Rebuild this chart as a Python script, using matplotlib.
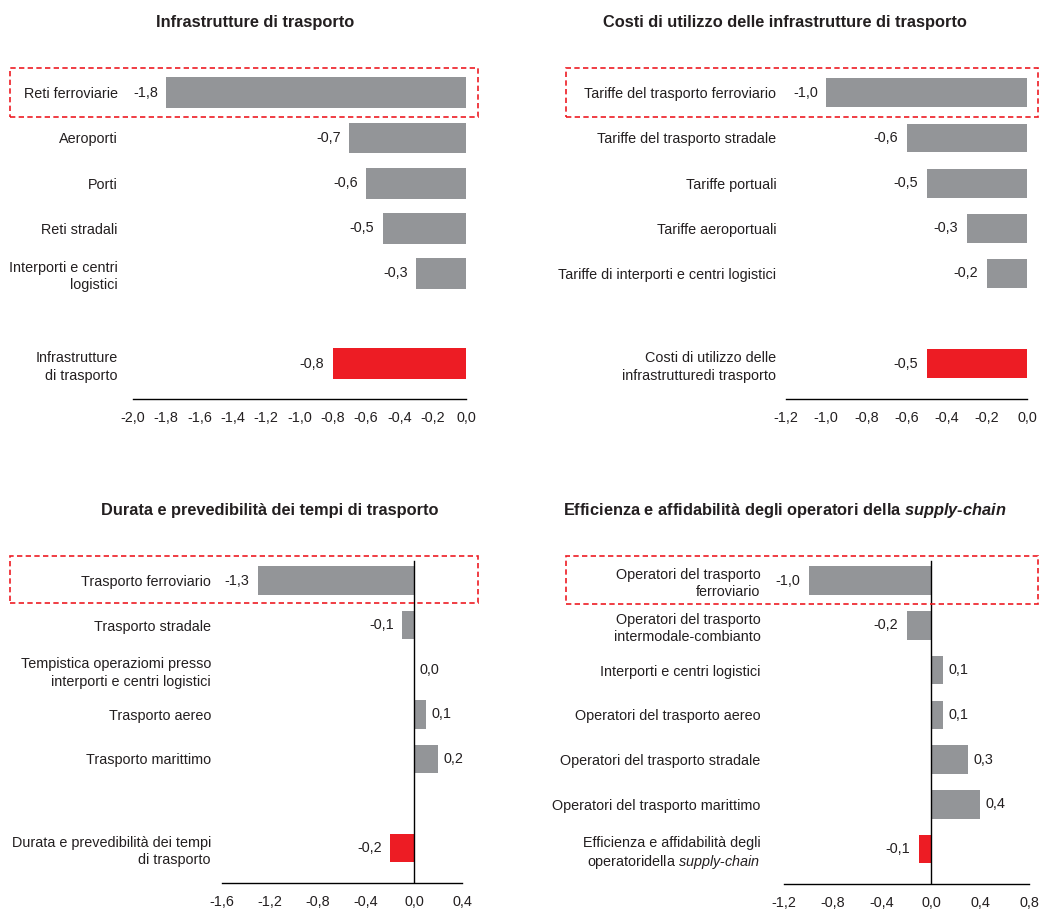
import matplotlib.pyplot as plt
from matplotlib.patches import Rectangle
from matplotlib.ticker import FuncFormatter

plt.rcParams['font.family'] = ['Liberation Sans', 'DejaVu Sans']
plt.rcParams['mathtext.fontset'] = 'custom'
plt.rcParams['mathtext.it'] = 'Liberation Sans:italic'
# bold-italic for the title fragment
plt.rcParams['mathtext.bf'] = 'Liberation Sans:italic:bold'

# --- data ---
infra_labels = ['Reti ferroviarie', 'Aeroporti', 'Porti', 'Reti stradali',
                'Interporti e centri\nlogistici', 'Infrastrutture\ndi trasporto']
infra_values = [-1.8, -0.7, -0.6, -0.5, -0.3, -0.8]

costi_labels = ['Tariffe del trasporto ferroviario', 'Tariffe del trasporto stradale',
                'Tariffe portuali', 'Tariffe aeroportuali',
                'Tariffe di interporti e centri logistici',
                'Costi di utilizzo delle\ninfrastrutturedi trasporto']
costi_values = [-1.0, -0.6, -0.5, -0.3, -0.2, -0.5]

durata_labels = ['Trasporto ferroviario', 'Trasporto stradale',
                 'Tempistica operaziomi presso\ninterporti e centri logistici',
                 'Trasporto aereo', 'Trasporto marittimo',
                 'Durata e prevedibilità dei tempi\ndi trasporto']
durata_values = [-1.3, -0.1, 0.0, 0.1, 0.2, -0.2]

oper_labels = ['Operatori del trasporto\nferroviario',
               'Operatori del trasporto\nintermodale-combianto',
               'Interporti e centri logistici', 'Operatori del trasporto aereo',
               'Operatori del trasporto stradale', 'Operatori del trasporto marittimo',
               'Efficienza e affidabilità degli\noperatoridella $\\mathit{supply}$-$\\mathit{chain}$']
oper_values = [-1.0, -0.2, 0.1, 0.1, 0.3, 0.4, -0.1]

GREY = '#939598'
RED = '#ED1C24'
TXT = '#231F20'
FS = 10.4

W, H = 1039, 913
fig = plt.figure(figsize=(W / 100, H / 100), dpi=100)


def px_axes(left, top, right, bottom):
    return fig.add_axes([left / W, 1 - bottom / H, (right - left) / W, (bottom - top) / H])


def comma(v, pos=None):
    return f'{v:.1f}'.replace('.', ',')


def draw_panel(ax, labels, values, slots, xlim, xticks, ypad, bar_h, zero_line=False):
    colors = [GREY] * (len(values) - 1) + [RED]
    ax.barh(slots, values, height=bar_h, color=colors, zorder=2)
    for s, v in zip(slots, values):
        if v < 0:
            ax.annotate(comma(v), (v, s), xytext=(-6, 0), textcoords='offset points',
                        ha='right', va='center', fontsize=FS, color=TXT)
        else:
            ax.annotate(comma(v), (v, s), xytext=(4, 0), textcoords='offset points',
                        ha='left', va='center', fontsize=FS, color=TXT)
    ax.set_xlim(*xlim)
    ax.set_ylim(6.78, -0.55)
    ax.set_xticks(xticks)
    ax.xaxis.set_major_formatter(FuncFormatter(comma))
    ax.set_yticks(slots)
    ax.set_yticklabels(labels, linespacing=1.3)
    ax.tick_params(axis='x', length=0, pad=8.5, labelsize=FS, labelcolor=TXT)
    ax.tick_params(axis='y', length=0, pad=ypad, labelsize=FS, labelcolor=TXT)
    for side in ['top', 'left', 'right']:
        ax.spines[side].set_visible(False)
    ax.spines['bottom'].set_color('black')
    ax.spines['bottom'].set_linewidth(1)
    if zero_line:
        ax.axvline(0, ymax=0.985, color='black', lw=1, zorder=3)
    ax.set_facecolor('none')


ax1 = px_axes(133, 68, 466, 399)
draw_panel(ax1, infra_labels, infra_values, [0, 1, 2, 3, 4, 6], (-2.0, 0.0),
           [-2.0, -1.8, -1.6, -1.4, -1.2, -1.0, -0.8, -0.6, -0.4, -0.2, 0.0], 11, 0.68)

ax2 = px_axes(786, 68, 1027, 399)
draw_panel(ax2, costi_labels, costi_values, [0, 1, 2, 3, 4, 6], (-1.2, 0.0),
           [-1.2, -1.0, -0.8, -0.6, -0.4, -0.2, 0.0], 7, 0.64)

ax3 = px_axes(222, 556, 462, 883)
draw_panel(ax3, durata_labels, durata_values, [0, 1, 2, 3, 4, 6], (-1.6, 0.4),
           [-1.6, -1.2, -0.8, -0.4, 0.0, 0.4], 8, 0.64, zero_line=True)

ax4 = px_axes(784, 556, 1029, 884)
draw_panel(ax4, oper_labels, oper_values, [0, 1, 2, 3, 4, 5, 6], (-1.2, 0.8),
           [-1.2, -0.8, -0.4, 0.0, 0.4, 0.8], 17, 0.64, zero_line=True)

# panel titles
titles = [
    (255, 22, 'Infrastrutture di trasporto'),
    (785, 22, 'Costi di utilizzo delle infrastrutture di trasporto'),
    (270, 511, 'Durata e prevedibilità dei tempi di trasporto'),
    (785, 511, 'Efficienza e affidabilità degli operatori della $\\mathbf{supply}$-$\\mathbf{chain}$'),
]
for x, y, t in titles:
    fig.text(x / W, 1 - y / H, t, ha='center', va='center', fontsize=11.8,
             fontweight='bold', color=TXT)

# dashed highlight boxes around the rail rows
boxes = [(10, 68, 478, 117), (566, 68, 1038, 117), (10, 556, 478, 603), (566, 556, 1038, 604)]
for l, t, r, b in boxes:
    fig.patches.append(Rectangle((l / W, 1 - b / H), (r - l) / W, (b - t) / H,
                                 transform=fig.transFigure, fill=False, edgecolor=RED,
                                 linewidth=1.2, linestyle=(0, (3.2, 2))))

fig.savefig('out.png', dpi=100, facecolor='white')
